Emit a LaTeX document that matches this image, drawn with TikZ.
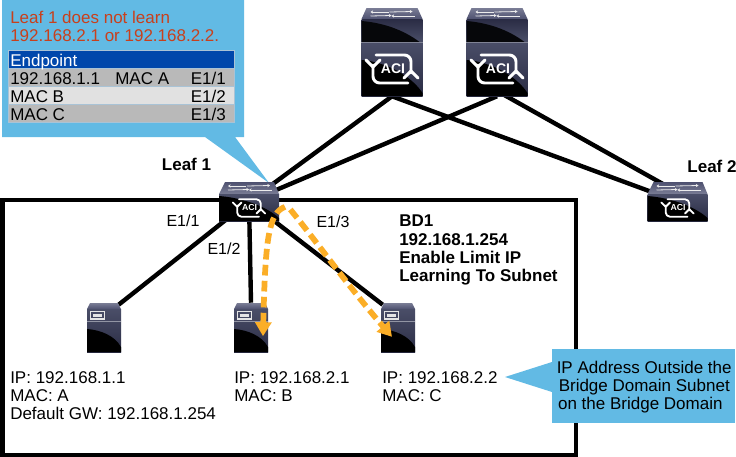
\documentclass[tikz,border=0pt]{standalone}
\usepackage{fontspec}
\setmainfont{Liberation Sans}
\usetikzlibrary{arrows.meta,bending}
\definecolor{callout}{HTML}{62BAE4}
\definecolor{tablehead}{HTML}{0047AB}
\definecolor{rowdark}{HTML}{B9B9B9}
\definecolor{rowlight}{HTML}{E1E1E1}
\definecolor{rowedge}{HTML}{A9C3D6}
\definecolor{redtext}{HTML}{C8401C}
\definecolor{flow}{HTML}{FBAE27}
\definecolor{topa}{HTML}{7A7D95}
\definecolor{topb}{HTML}{4E5170}
\definecolor{fronta}{HTML}{4A4E68}
\definecolor{frontb}{HTML}{2A2C44}
\tikzset{
  txt/.style={font=\fontsize{12.75}{13.5}\selectfont,align=left,inner sep=0pt,anchor=north west},
  port/.style={font=\fontsize{12}{13.5}\selectfont,inner sep=0pt},
  lbl/.style={font=\fontsize{12.75}{13.5}\selectfont\bfseries,inner sep=0pt},
  link/.style={line width=3.3pt,black},
  flowline/.style={line width=4.3pt,flow,dash pattern=on 8pt off 4pt,-{Triangle[length=10.5pt,width=12pt]}},
  row/.style={draw=rowedge,line width=.6pt,inner sep=0pt,outer sep=0pt,minimum width=169.5pt,minimum height=13.5pt},
  cell/.style={font=\fontsize{12.75}{13.5}\selectfont,inner sep=0pt,anchor=base west},
}
\newcommand\acimark[3]{%
  \begin{scope}[shift={(#1,#2)},scale=#3]
    \draw[white,line width=#3*2.2pt,rounded corners=5*#3 pt,line cap=round,line join=round]
      (-16,-14) -- (19,-14) -- (19,4);
    \draw[white,line width=#3*2.2pt,rounded corners=5*#3 pt,line cap=round,line join=round]
      (16,14) -- (-19,14) -- (-19,-4);
    \draw[white,line width=#3*2.2pt,line cap=round,line join=round] (-26,-9)--(-19,-2)--(-12,-9);
    \draw[white,line width=#3*2.2pt,line cap=round,line join=round] (12,9)--(19,2)--(26,9);
    \node[transform shape,white,inner sep=0pt,font=\fontsize{10.5}{11}\selectfont\bfseries] (acilabel) at (1,0) {ACI};
  \end{scope}}
\newcommand\toparrows[2]{%
  \begin{scope}[shift={(#1,#2)}]
    \draw[white!85!gray,line width=.6pt,-{Stealth[length=2pt,width=2.5pt]}] (9,8)--(30,7.5);
    \draw[white!85!gray,line width=.6pt,-{Stealth[length=2pt,width=2.5pt]}] (28,4)--(51,3.5);
    \draw[white!85!gray,line width=.6pt,{Stealth[length=2pt,width=2.5pt]}-] (9,4)--(27,4);
    \draw[white!85!gray,line width=.6pt,{Stealth[length=2pt,width=2.5pt]}-] (30,8)--(53,8);
  \end{scope}}
\newcommand\leaficon[2]{%
  \begin{scope}[shift={(#1,#2)}]
    \shade[top color=topb,bottom color=topa] (6,0)--(55,0)--(60,12)--(0,12)--cycle;
    \toparrows{0}{0}
    \shade[top color=fronta,bottom color=frontb] (0,12) rectangle (60,39);
    \fill[black] (0,14) .. controls (25,16) and (48,25) .. (60,36) -- (60,39) -- (0,39) -- cycle;
    \acimark{30}{26}{0.62}
  \end{scope}}
\newcommand\spineicon[2]{%
  \begin{scope}[shift={(#1,#2)}]
    \shade[top color=topa,bottom color=topb] (5,0)--(56,0)--(61,11)--(0,11)--cycle;
    \toparrows{0}{0}
    \shade[top color=frontb,bottom color=fronta] (0,11) rectangle (61,34);
    \fill[black!85!frontb] (0,13) .. controls (25,15) and (45,24) .. (58,34) -- (0,34) -- cycle;
    \shade[top color=fronta,bottom color=frontb] (0,34) rectangle (61,88);
    \fill[black] (0,52) .. controls (25,54) and (50,68) .. (61,85) -- (61,88) -- (0,88) -- cycle;
    \draw[fronta!70!white,line width=.4pt] (0,34)--(61,34);
    \acimark{30.5}{61}{1}
  \end{scope}}
\newcommand\servericon[2]{%
  \begin{scope}[shift={(#1,#2)}]
    \shade[top color=topa,bottom color=topb] (3,0)--(31,0)--(34,6)--(0,6)--cycle;
    \shade[top color=fronta,bottom color=frontb] (0,6) rectangle (34,49);
    \fill[black] (0,26) .. controls (14,27) and (28,33) .. (34,44) -- (34,49) -- (0,49) -- cycle;
    \draw[white!80!gray,line width=.8pt] (3.5,8.5) rectangle (17.5,16);
    \fill[white!80!gray] (6,11) rectangle (15,13.5);
    \draw[fronta!60!white,line width=.3pt] (0,18)--(34,18);
  \end{scope}}
\begin{document}
\begin{tikzpicture}[x=0.75pt,y=-0.75pt]
\useasboundingbox (0,0) rectangle (736,457);
\fill[white] (0,0) rectangle (736,457);
% anchor boxes of the devices
\node[inner sep=0pt,minimum width=45.75pt,minimum height=66pt] (spine1) at (392,52) {};
\node[inner sep=0pt,minimum width=45.75pt,minimum height=66pt] (spine2) at (497,52) {};
\node[inner sep=0pt,minimum width=45pt,minimum height=29.25pt] (leaf1) at (249,201.5) {};
\node[inner sep=0pt,minimum width=45pt,minimum height=29.25pt] (leaf2) at (677.5,201.5) {};
\node[inner sep=0pt,minimum width=25.5pt,minimum height=36.75pt] (srv1) at (104,327.5) {};
\node[inner sep=0pt,minimum width=25.5pt,minimum height=36.75pt] (srv2) at (251,327.5) {};
\node[inner sep=0pt,minimum width=25.5pt,minimum height=36.75pt] (srv3) at (398,327.5) {};
% bridge-domain box
\draw[black,line width=3pt] (2.5,199.5) rectangle (575.5,454.5);
% links
\draw[link] (leaf1.center) -- (spine1.south);
\draw[link] (leaf1.center) -- (spine2.south);
\draw[link] (spine1.south) -- (leaf2.center);
\draw[link] ([yshift=4pt]spine2.south) -- ([yshift=7pt]leaf2.center);
\draw[link] (leaf1.center) -- ([xshift=-2pt,yshift=-1.5pt]srv1.north east);
\draw[link] (leaf1.center) -- (srv2.north);
\draw[link] (leaf1.center) -- ([xshift=1.5pt,yshift=-1.5pt]srv3.north west);
% callouts
\fill[callout] (2,0) -- (244,0) -- (244,137) -- (235,137) -- (269,183) -- (205,137) -- (2,137) -- cycle;
\fill[callout] (552,349) rectangle (735,423);
\fill[callout] (552,362) -- (505,377) -- (552,392) -- cycle;
% devices
\spineicon{361.5}{8}
\spineicon{466.5}{8}
\leaficon{219}{182}
\leaficon{647.5}{182}
\servericon{87}{303}
\servericon{234}{303}
\servericon{381}{303}
% traffic
\draw[flowline] ([xshift=27pt,yshift=-4pt]leaf1.center) .. controls ([xshift=14pt,yshift=-9pt]leaf1.center) and ([xshift=12pt,yshift=-30pt]leaf1.center) .. ([xshift=9pt,yshift=-6.5pt]srv2.center);
\draw[flowline] ([xshift=31pt,yshift=-6pt]leaf1.center) .. controls ([xshift=53pt,yshift=-33pt]leaf1.center) and ([xshift=76pt,yshift=-66pt]leaf1.center) .. ([xshift=-4.5pt,yshift=-7pt]srv3.center);
% callout 1 content
\node[txt,text=redtext] (note) at (10,10.5) {Leaf 1 does not learn\\192.168.2.1 or 192.168.2.2.};
\node[row,fill=tablehead,anchor=north west] (rowh) at (8,50) {};
\node[row,fill=rowdark,anchor=north west] (row1) at (8,68) {};
\node[row,fill=rowlight,anchor=north west] (row2) at (8,86) {};
\node[row,fill=rowdark,anchor=north west] (row3) at (8,104) {};
\node[cell,text=white] (th) at (10,66) {Endpoint};
\node[cell] (c11) at (10,84) {192.168.1.1};
\node[cell] (c12) at (115,84) {MAC A};
\node[cell] (c13) at (190.5,84) {E1/1};
\node[cell] (c21) at (10,102) {MAC B};
\node[cell] (c23) at (190.5,102) {E1/2};
\node[cell] (c31) at (10,120) {MAC C};
\node[cell] (c33) at (190.5,120) {E1/3};
% labels
\node[lbl] (l1) at (186.5,164) {Leaf 1};
\node[lbl] (l2) at (712,166) {Leaf 2};
\node[port] (p1) at (183,221) {E1/1};
\node[port] (p2) at (224,249) {E1/2};
\node[port] (p3) at (333,222) {E1/3};
\node[txt,font=\fontsize{12.75}{13.7}\selectfont\bfseries] (bd) at (399,215) {BD1\\192.168.1.254\\Enable Limit IP\\Learning To Subnet};
\node[txt] (s1) at (10,371) {IP: 192.168.1.1\\MAC: A\\Default GW: 192.168.1.254};
\node[txt] (s2) at (234,371) {IP: 192.168.2.1\\MAC: B};
\node[txt] (s3) at (382,371) {IP: 192.168.2.2\\MAC: C};
\node[txt] (c2) at (556.5,361) {IP Address Outside the\\\hspace{1.5pt}Bridge Domain Subnet\\\hspace{1pt}on the Bridge Domain};
\end{tikzpicture}
\end{document}
